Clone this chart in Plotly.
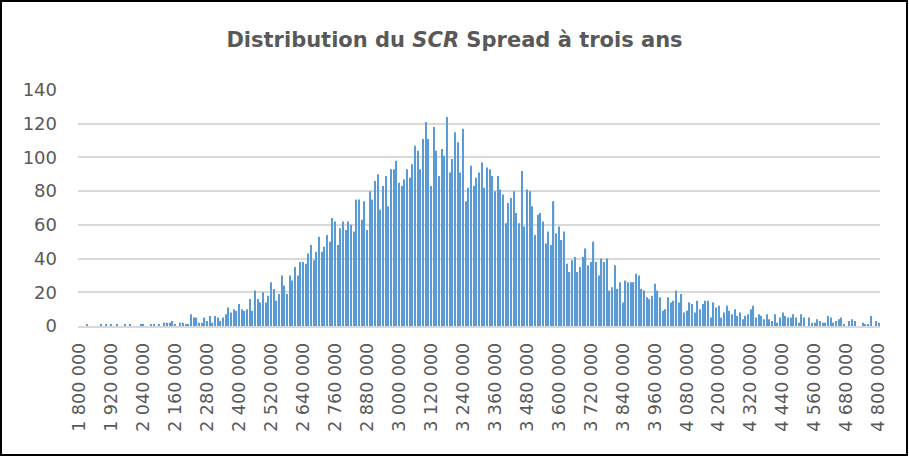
import plotly.graph_objects as go

# Bin lower bounds (step 10 000) from 1 800 000 to 4 800 000
categories = list(range(1800000, 4800001, 10000))

counts_left = [0, 0, 0, 1, 0, 0, 0, 0, 1, 0,
               1, 0, 1, 0, 1, 0, 0, 1, 0, 1,
               0, 0, 0, 1, 1, 0, 0, 1, 1, 0,
               1, 0, 2, 2, 2, 3, 1, 0, 2, 2,
               1, 1, 7, 5, 5, 2, 2, 5, 3, 6,
               2, 6, 5, 3, 5, 7, 11, 8, 10, 9]
counts_rise = [13, 10, 9, 10, 16, 9, 21, 16, 14, 20,
               14, 18, 26, 22, 15, 19, 30, 24, 19, 30,
               27, 35, 30, 38, 38, 37, 43, 48, 39, 44,
               53, 44, 47, 54, 50, 64, 62, 48, 58, 62,
               57, 62, 60, 56, 75, 75, 63, 74, 57, 80,
               75, 86]
counts_peak = [90, 69, 83, 89, 71, 93, 93, 98, 85, 83,
               87, 93, 88, 96, 107, 104, 93, 111, 121, 111,
               83, 118, 104, 89, 105, 101, 124, 91, 99, 115,
               109, 91, 117, 74, 82, 95, 83, 88, 91, 97,
               82, 94, 93, 89, 80, 89, 81, 78, 61, 73,
               76, 80, 67, 61, 92, 59, 81, 80, 71, 54,
               66]
counts_fall = [67, 62, 49, 56, 48, 74, 55, 59, 51, 56,
               37, 32, 39, 41, 32, 35, 41, 46, 36, 38,
               50, 38, 30, 40, 38, 40, 21, 23, 36, 22,
               26, 14, 27, 26, 26, 26, 31, 30, 22, 21,
               17, 16, 18, 25, 21, 17, 9, 10, 17, 14,
               15, 21, 14, 19, 8, 9, 14, 13, 8, 15,
               10, 13, 15, 15, 5]
counts_tail = [14, 11, 12, 5, 8, 12, 9, 7, 10, 6,
               8, 4, 6, 7, 10, 12, 5, 7, 6, 4,
               7, 4, 3, 7, 2, 5, 8, 6, 5, 5,
               7, 5, 2, 7, 5, 0, 5, 2, 2, 4,
               3, 2, 2, 6, 5, 2, 3, 4, 5, 1,
               0, 3, 4, 3, 0, 0, 2, 1, 1, 6,
               0, 3, 2]

counts = counts_left + counts_rise + counts_peak + counts_fall + counts_tail

tick_values = categories[::12]
tick_labels = [f"{v:,}".replace(",", " ") for v in tick_values]
y_ticks = [0, 20, 40, 60, 80, 100, 120, 140]

W, H = 909, 457
ML, MR, MT, MB = 78, 29, 90, 131
PW, PH = W - ML - MR, H - MT - MB

fig = go.Figure()
fig.add_trace(go.Bar(
    x=categories, y=counts,
    marker=dict(color="#5B9BD5", line=dict(width=0)),
    width=4600,
))

font_c = "#595959"
fig.update_layout(
    width=W, height=H,
    margin=dict(l=ML, r=MR, t=MT, b=MB),
    paper_bgcolor="white", plot_bgcolor="white",
    showlegend=False,
    title=dict(
        text="<b>Distribution du <i>SCR</i> Spread à trois ans</b>",
        x=0.5, xanchor="center", xref="container",
        y=1 - 40 / H, yanchor="middle",
        font=dict(family="DejaVu Sans", size=21, color=font_c),
    ),
    xaxis=dict(
        range=[1795000, 4805000],
        tickmode="array", tickvals=tick_values, ticktext=tick_labels,
        tickangle=-90,
        tickfont=dict(family="DejaVu Sans", size=17.5, color=font_c),
        showgrid=False, zeroline=False,
        showline=True, linecolor="#d9d9d9", linewidth=1.5,
        ticks="", ticklabelstandoff=8,
    ),
    yaxis=dict(
        range=[0, 140], tickmode="array", tickvals=y_ticks,
        tickfont=dict(family="DejaVu Sans", size=18, color=font_c),
        showgrid=True, gridcolor="#d9d9d9", gridwidth=1.5,
        zeroline=False, showline=False, ticks="",
        ticklabelstandoff=20,
    ),
)

# outer chart border
fig.add_shape(
    type="rect", xref="paper", yref="paper",
    x0=(1 - ML) / PW, x1=(907 - ML) / PW,
    y0=(MT + PH - 455) / PH, y1=(MT + PH - 1) / PH,
    line=dict(color="black", width=2), fillcolor="rgba(0,0,0,0)",
    layer="above",
)

fig.write_html(
    "out.html",
    config={"displayModeBar": False},
    post_script="document.body.style.margin='0';document.body.style.overflow='hidden';",
)
